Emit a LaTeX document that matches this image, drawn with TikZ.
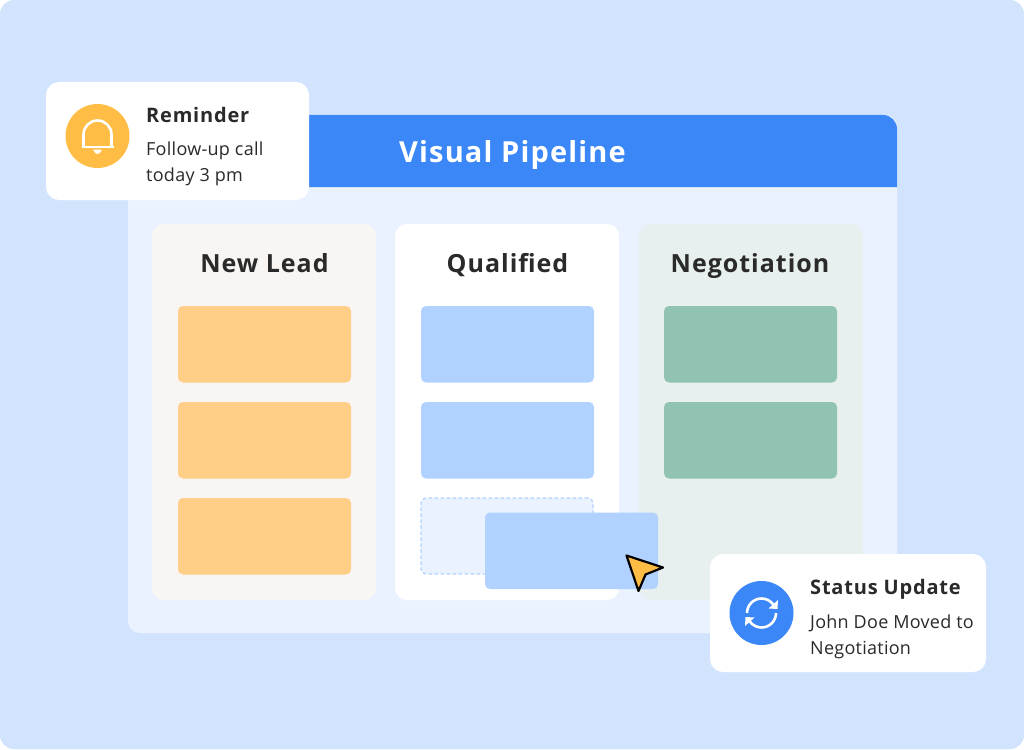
\documentclass[tikz,border=0pt]{standalone}
\usepackage{fontspec}
\setmainfont{Open Sans}
\newfontfamily\titlefont[LetterSpace=4]{Open Sans}
\newfontfamily\bodyfont[LetterSpace=1.5]{Open Sans}
\definecolor{bgc}{HTML}{D2E4FD}
\definecolor{panelc}{HTML}{EAF2FF}
\definecolor{headc}{HTML}{3B87F7}
\definecolor{colA}{HTML}{F8F5F2}
\definecolor{colC}{HTML}{E7F0EE}
\definecolor{orangec}{HTML}{FFCF87}
\definecolor{bluec}{HTML}{B1D2FF}
\definecolor{greenc}{HTML}{90C3B2}
\definecolor{amberc}{HTML}{FFBD45}
\definecolor{inkc}{HTML}{2A2A2A}
\tikzset{
  x=1pt,y=-1pt,
  panelbox/.style={rectangle,anchor=north west,inner sep=0pt,outer sep=0pt,draw=none},
  colbox/.style={panelbox,rounded corners=12pt,minimum width=224pt,minimum height=376pt},
  cardbox/.style={panelbox,rounded corners=5pt,minimum width=173pt,minimum height=76.5pt},
  notebox/.style={panelbox,rounded corners=13pt,fill=white,minimum height=118pt},
  coltitle/.style={anchor=base,font=\titlefont\bfseries\fontsize{25}{30}\selectfont,text=inkc,inner sep=0pt},
  notetitle/.style={anchor=base west,font=\titlefont\bfseries\fontsize{20}{24}\selectfont,text=inkc,inner sep=0pt},
  notebody/.style={anchor=base west,font=\bodyfont\fontsize{18}{20}\selectfont,text=inkc,inner sep=0pt},
  iconc/.style={circle,inner sep=0pt,minimum size=64pt,draw=none},
  iconline/.style={draw=white,line width=2.6pt,line cap=butt,line join=round},
}
\begin{document}
\begin{tikzpicture}
\useasboundingbox (0,0) rectangle (1024,749);
\fill[white] (0,0) rectangle (1024,749);
\node[panelbox,rounded corners=14pt,fill=bgc,minimum width=1024pt,minimum height=749pt] (bg) at (0,0) {};
% window
\node[panelbox,rounded corners=12pt,fill=panelc,minimum width=769pt,minimum height=518pt] (window) at (128,115) {};
\fill[headc] (128,187) -- (128,115) -- (883,115) arc[start angle=270,end angle=360,radius=14] -- (897,187) -- cycle;
\node[anchor=base,inner sep=0pt,font=\titlefont\bfseries\fontsize{29}{34}\selectfont,text=white] (headt) at (512.5,162) {Visual Pipeline};
% columns
\node[colbox,fill=colA] (c1) at (152,224) {};
\node[colbox,fill=white] (c2) at (395,224) {};
\node[colbox,fill=colC] (c3) at (639,224) {};
\node[coltitle] (t1) at (264.5,272) {New Lead};
\node[coltitle] (t2) at (507.5,272) {Qualified};
\node[coltitle] (t3) at (750,272) {Negotiation};
% cards
\node[cardbox,fill=orangec] (a1) at (178,306) {};
\node[cardbox,fill=orangec] (a2) at (178,402) {};
\node[cardbox,fill=orangec] (a3) at (178,498) {};
\node[cardbox,fill=bluec] (b1) at (421,306) {};
\node[cardbox,fill=bluec] (b2) at (421,402) {};
\node[cardbox,fill=panelc,draw=bluec,dashed,line width=1.2pt,dash pattern=on 3.5pt off 2.5pt,minimum width=172pt,minimum height=76pt] (ghost) at (421,498) {};
\node[cardbox,fill=bluec] (drag) at (485,512.5) {};
\node[cardbox,fill=greenc] (g1) at (664,306) {};
\node[cardbox,fill=greenc] (g2) at (664,402) {};
% cursor
\draw[fill=amberc,draw=black,line width=2.2pt,line join=round] (626.5,555.5) -- (663,567.5) -- (645.5,574.5) -- (638.5,591) -- cycle;
% reminder
\node[notebox,minimum width=263pt] (rem) at (46,82) {};
\node[iconc,fill=amberc] (remi) at (97.5,136) {};
\draw[iconline] (83.5,147) -- (83.5,134.5) arc[start angle=180,end angle=360,radius=14] -- (111.5,147);
\draw[iconline] (81.5,147) -- (113.5,147);
\fill[white] (93,149.5) -- (102,149.5) .. controls (101,152.5) and (99,154) .. (97.5,154) .. controls (96,154) and (94,152.5) .. (93,149.5) -- cycle;
\node[notetitle] (remt) at (146,122) {Reminder};
\node[notebody] (remb1) at (146,155.5) {Follow-up call};
\node[notebody] (remb2) at (146,181.5) {today 3 pm};
% status
\node[notebox,minimum width=276pt] (sta) at (710,554) {};
\node[iconc,fill=headc] (stai) at (761.5,613) {};
\draw[iconline] (747,613) arc[start angle=180,end angle=325,radius=14.5];
\fill[white] (778,600) -- (777.5,609) -- (768.5,608.5) -- cycle;
\draw[iconline] (776,613) arc[start angle=0,end angle=145,radius=14.5];
\fill[white] (745,626) -- (745.5,617) -- (754.5,617.5) -- cycle;
\node[notetitle] (stat) at (810,594) {Status Update};
\node[notebody] (stab1) at (810,628) {John Doe Moved to};
\node[notebody] (stab2) at (810,654) {Negotiation};
\end{tikzpicture}
\end{document}
